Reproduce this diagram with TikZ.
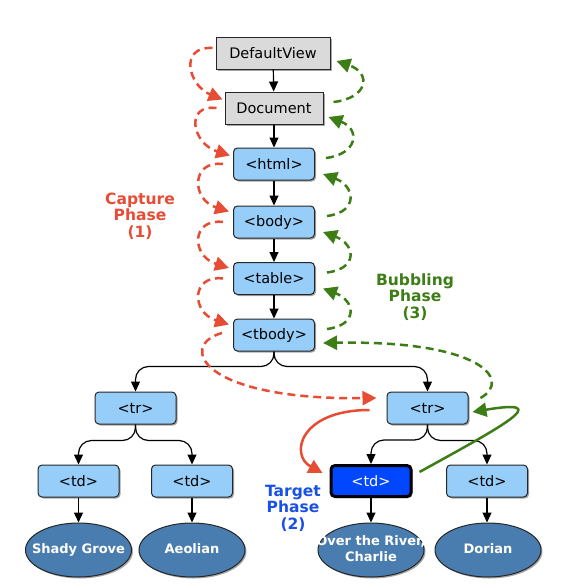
\documentclass[tikz,border=0pt]{standalone}
\usepackage{fontspec}
\setmainfont{DejaVu Sans}
\usetikzlibrary{arrows.meta,shadows,calc,shapes.geometric}
\definecolor{boxblue}{RGB}{150,205,249}
\definecolor{boxgray}{RGB}{218,218,218}
\definecolor{ellblue}{RGB}{74,125,175}
\definecolor{capred}{RGB}{231,76,52}
\definecolor{bubgreen}{RGB}{60,125,22}
\definecolor{tgtblue}{RGB}{0,71,255}
\definecolor{tgttext}{RGB}{25,80,230}
\newcommand{\leaftext}[1]{\makebox[0pt][c]{\begin{tabular}{@{}c@{}}#1\end{tabular}}}
\begin{document}
\begin{tikzpicture}[x=1pt,y=-1pt,
 shad/.style={drop shadow={shadow xshift=1.5pt,shadow yshift=-1.5pt,opacity=0.35,fill=black}},
 graybox/.style={draw=black!85,line width=1pt,fill=boxgray,minimum height=32pt,inner sep=0pt,shad,font=\fontsize{14.5}{16}\selectfont},
 bluebox/.style={draw=black!85,line width=1pt,fill=boxblue,rounded corners=4pt,minimum width=81pt,minimum height=32pt,inner sep=0pt,shad,font=\fontsize{14.5}{16}\selectfont},
 tgtbox/.style={bluebox,fill=tgtblue,draw=black,line width=3pt,text=white,minimum width=80pt,minimum height=31pt},
 leaf/.style={ellipse,draw=black!85,line width=1pt,fill=ellblue,minimum width=106pt,minimum height=54pt,inner sep=0pt,text=white,font=\bfseries\fontsize{13}{16}\selectfont,shad},
 tree/.style={draw=black,line width=1.2pt,-{Triangle[length=10pt,width=9pt]}},
 branch/.style={tree,rounded corners=13pt},
 capdash/.style={draw=capred,line width=2.5pt,dash pattern=on 8pt off 5pt,-{Triangle[length=14pt,width=14pt]}},
 capsolid/.style={draw=capred,line width=2.5pt,-{Triangle[length=14pt,width=14pt]}},
 bubdash/.style={draw=bubgreen,line width=2.5pt,dash pattern=on 8pt off 5pt,-{Triangle[length=14pt,width=14pt]}},
 bubsolid/.style={draw=bubgreen,line width=2.5pt,-{Triangle[length=14pt,width=14pt]}},
 phase/.style={font=\bfseries\fontsize{15.5}{16.5}\selectfont,align=center}
]
\useasboundingbox (0,0) rectangle (565,587);

% nodes
\node[graybox,minimum width=114pt] (dv) at (273,53) {DefaultView};
\node[graybox,minimum width=98pt] (doc) at (274,108) {Document};
\node[bluebox] (html) at (274,164) {<html>};
\node[bluebox] (body) at (274,222) {<body>};
\node[bluebox] (table) at (274,278.5) {<table>};
\node[bluebox] (tbody) at (274,335) {<tbody>};
\node[bluebox] (ltr) at (135.5,408) {<tr>};
\node[bluebox] (rtr) at (427.5,408) {<tr>};
\node[bluebox] (td1) at (78.5,481) {<td>};
\node[bluebox] (td2) at (192,481) {<td>};
\node[tgtbox] (ttd) at (371,481) {<td>};
\node[bluebox] (td4) at (487,481) {<td>};
\node[leaf] (e1) at (78.5,550) {\leaftext{Shady Grove}};
\node[leaf] (e2) at (192,550) {\leaftext{Aeolian}};
\node[leaf] (e3) at (371,550) {\leaftext{Over the River,\\Charlie}};
\node[leaf] (e4) at (488,550) {\leaftext{Dorian}};

% tree connectors
\draw[tree] (dv) -- (doc);
\draw[tree] (doc) -- (html);
\draw[tree] (html) -- (body);
\draw[tree] (body) -- (table);
\draw[tree] (table) -- (tbody);
\draw[branch] (tbody.south) |- ($(ltr.north)+(0,-25)$) -- (ltr.north);
\draw[branch] (tbody.south) |- ($(rtr.north)+(0,-25)$) -- (rtr.north);
\draw[branch] (ltr.south) |- ($(td1.north)+(0,-24)$) -- (td1.north);
\draw[branch] (ltr.south) |- ($(td2.north)+(0,-24)$) -- (td2.north);
\draw[branch] (rtr.south) |- ($(ttd.north)+(0,-24)$) -- (ttd.north);
\draw[branch] (rtr.south) |- ($(td4.north)+(0,-24)$) -- (td4.north);
\draw[tree] (td1) -- (e1);
\draw[tree] (td2) -- (e2);
\draw[tree] (ttd) -- (e3);
\draw[tree] (td4.south) -- (td4.south |- e4.north);

% capture phase (red)
\draw[capdash] ($(dv.west)+(-3,-5)$) .. controls +(-34,-2) and +(-34,-14) .. ($(doc.north west)+(-2,8)$);
\draw[capdash] ($(doc.west)+(-8,0)$) .. controls +(-32,-4) and +(-38,-12) .. ($(html.north west)+(-3,8)$);
\draw[capdash] ($(html.west)+(-10,0)$) .. controls +(-32,-4) and +(-38,-12) .. ($(body.north west)+(-4,6)$);
\draw[capdash] ($(body.west)+(-10,0)$) .. controls +(-32,-4) and +(-38,-12) .. ($(table.north west)+(-4,6)$);
\draw[capdash] ($(table.west)+(-10,0)$) .. controls +(-32,-4) and +(-38,-12) .. ($(tbody.north west)+(-4,6)$);
\draw[capdash] ($(tbody.west)+(-11,-2)$) .. controls +(-44,12) and +(-177,2) .. ($(rtr.west)+(-10,-10)$);
\draw[capsolid] ($(rtr.west)+(-17,2)$) .. controls +(-70,0) and +(-33,-18) .. ($(ttd.west)+(-7,-8)$);

% bubbling phase (green)
\draw[bubdash] ($(doc.east)+(10,-6)$) .. controls +(35,-4) and +(35,12) .. ($(dv.east)+(6,8)$);
\draw[bubdash] ($(html.east)+(11,-6)$) .. controls +(32,-4) and +(32,12) .. ($(doc.east)+(5,9)$);
\draw[bubdash] ($(body.east)+(12,-6)$) .. controls +(32,-4) and +(32,12) .. ($(html.east)+(8,10)$);
\draw[bubdash] ($(table.east)+(12,-6)$) .. controls +(32,-4) and +(32,12) .. ($(body.east)+(8,10)$);
\draw[bubdash] ($(tbody.east)+(12,-6)$) .. controls +(32,-4) and +(32,12) .. ($(table.east)+(8,10)$);
\draw[bubdash] ($(rtr.east)+(12,-10)$) .. controls +(32,-18) and +(158,-3) .. ($(tbody.east)+(8,8)$);
\draw[bubsolid] ($(ttd.east)+(7,-9)$) .. controls +(85,-47) and +(83,-14) .. ($(rtr.east)+(4,4)$);

% labels
\node[phase,text=capred] (lcap) at (140,216) {Capture\\Phase\\(1)};
\node[phase,text=bubgreen] (lbub) at (415,297) {Bubbling\\Phase\\(3)};
\node[phase,text=tgttext] (ltgt) at (293,508) {Target\\Phase\\(2)};
\end{tikzpicture}
\end{document}
